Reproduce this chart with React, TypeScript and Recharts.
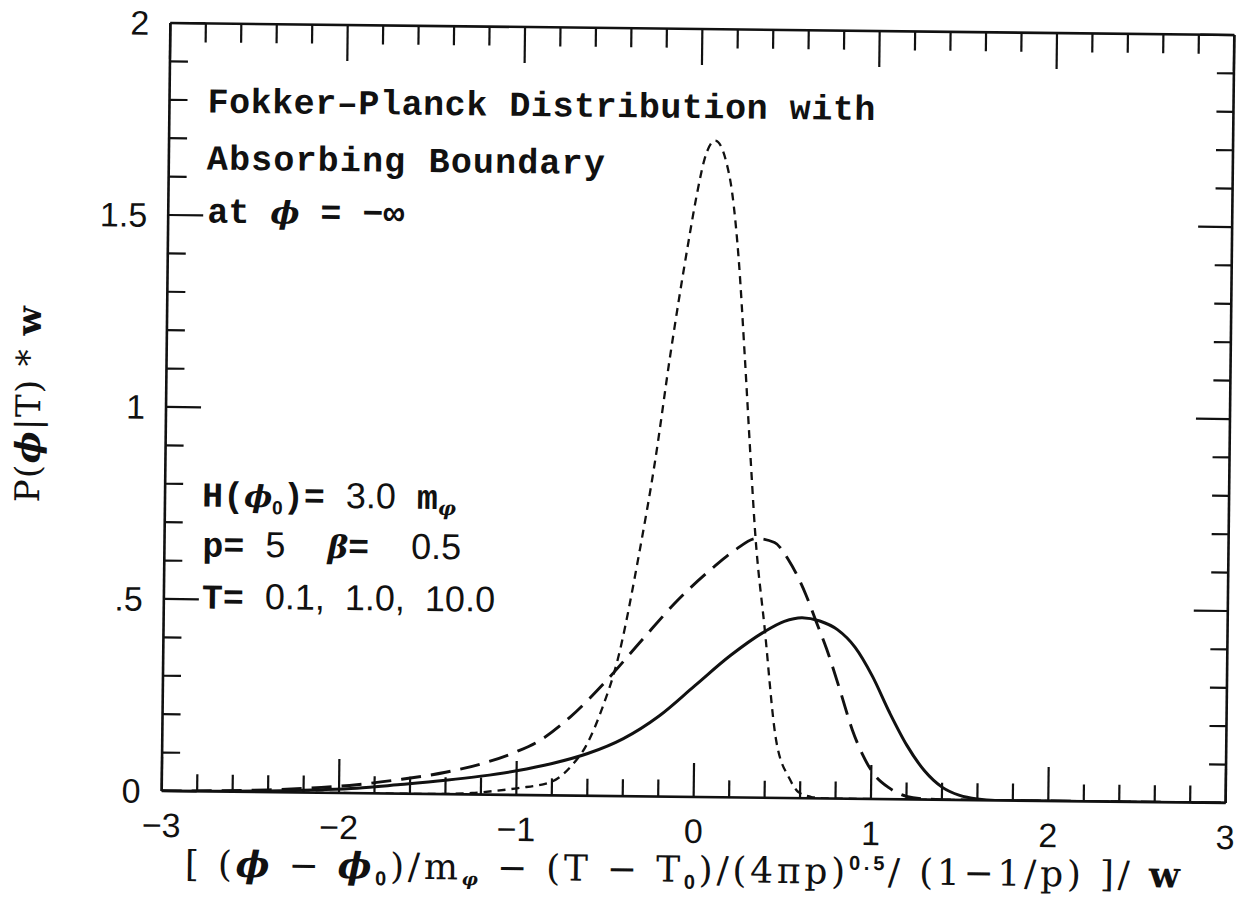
import React from 'react';
import { LineChart, Line, XAxis, YAxis } from 'recharts';

// ---- data ----
// T = 0.1 (short dashes)
const X_T01 = [-3, -1.5, -1.25, -1.12, -0.99, -0.8, -0.69, -0.61, -0.52, -0.44, -0.32, -0.24, -0.16, -0.07, -0.02, 0.02, 0.08, 0.14, 0.18, 0.22, 0.26, 0.3, 0.33, 0.39, 0.46, 0.54, 0.59, 0.66, 0.75, 3];
const P_T01 = [0, 0, 0.004, 0.01, 0.018, 0.036, 0.078, 0.13, 0.23, 0.35, 0.64, 0.87, 1.15, 1.43, 1.57, 1.66, 1.71, 1.66, 1.57, 1.4, 1.15, 0.88, 0.69, 0.44, 0.154, 0.05, 0.016, 0.004, 0, 0];

// T = 1.0 (long dashes)
const X_T1 = [-3, -2.7, -2.4, -2.1, -1.9, -1.67, -1.4, -1.2, -1.0, -0.88, -0.7, -0.5, -0.3, -0.1, 0.1, 0.22, 0.34, 0.44, 0.52, 0.62, 0.68, 0.74, 0.82, 0.89, 0.95, 1.01, 1.1, 1.2, 1.3, 1.45, 3];
const P_T1 = [0, 0.002, 0.006, 0.014, 0.022, 0.036, 0.057, 0.08, 0.113, 0.14, 0.205, 0.3, 0.408, 0.513, 0.6, 0.645, 0.675, 0.665, 0.62, 0.53, 0.46, 0.39, 0.28, 0.18, 0.115, 0.068, 0.03, 0.008, 0.002, 0, 0];

// T = 10.0 (solid)
const X_T10 = [-3, -2.7, -2.4, -2.1, -1.9, -1.67, -1.4, -1.2, -1.0, -0.8, -0.6, -0.4, -0.2, 0.0, 0.2, 0.38, 0.5, 0.6, 0.7, 0.8, 0.9, 1.0, 1.1, 1.2, 1.3, 1.4, 1.5, 1.6, 1.7, 3];
const P_T10 = [0, 0.001, 0.003, 0.008, 0.013, 0.023, 0.036, 0.048, 0.063, 0.083, 0.11, 0.15, 0.21, 0.29, 0.37, 0.43, 0.46, 0.47, 0.462, 0.44, 0.395, 0.32, 0.225, 0.14, 0.075, 0.033, 0.012, 0.003, 0, 0];

// ---- ticks ----
const X_MAJOR_TICKS = [-3, -2, -1, 0, 1, 2, 3];
const X_TICK_LABELS = ['\u22123', '\u22122', '\u22121', '0', '1', '2', '3'];
const Y_MAJOR_TICKS = [0, 0.5, 1, 1.5, 2];
const Y_TICK_LABELS = ['0', '.5', '1', '1.5', '2'];
const X_TICKS = Array.from({ length: 31 }, (_, i) => Math.round((-3 + i * 0.2) * 10) / 10);
const Y_TICKS = Array.from({ length: 21 }, (_, i) => i / 10);

const zip = (xs: number[], ys: number[]) => xs.map((x, i) => ({ x, y: ys[i] }));
const DATA_T01 = zip(X_T01, P_T01);
const DATA_T1 = zip(X_T1, P_T1);
const DATA_T10 = zip(X_T10, P_T10);

const INK = '#111';
const SANS = "'Liberation Sans', Arial, Helvetica, sans-serif";
const SERIF = "'DejaVu Serif', 'Liberation Serif', serif";
const MONO = "'Liberation Mono', 'DejaVu Sans Mono', monospace";

const majorIndex = (list: number[], v: number) => list.findIndex((m) => Math.abs(m - v) < 1e-6);

function BottomTick(props: any) {
  const { x, y, payload } = props;
  const idx = majorIndex(X_MAJOR_TICKS, payload.value);
  const major = idx >= 0;
  return (
    <g>
      <line x1={x} x2={x} y1={y} y2={y - (major ? 34 : 17)} stroke={INK} strokeWidth={2.2} />
      {major && (
        <text x={x} y={y + 46} textAnchor="middle" fontFamily={SANS} fontSize={34} fill={INK}>
          {X_TICK_LABELS[idx]}
        </text>
      )}
    </g>
  );
}

function TopTick(props: any) {
  const { x, y, payload } = props;
  const major = majorIndex(X_MAJOR_TICKS, payload.value) >= 0;
  return <line x1={x} x2={x} y1={y} y2={y + (major ? 36 : 19)} stroke={INK} strokeWidth={2.2} />;
}

function LeftTick(props: any) {
  const { x, y, payload } = props;
  const idx = majorIndex(Y_MAJOR_TICKS, payload.value);
  const major = idx >= 0;
  return (
    <g>
      <line x1={x} x2={x + (major ? 35 : 18)} y1={y} y2={y} stroke={INK} strokeWidth={2.2} />
      {major && (
        <text x={x - 21} y={y + 12} textAnchor="end" fontFamily={SANS} fontSize={34} fill={INK}>
          {Y_TICK_LABELS[idx]}
        </text>
      )}
    </g>
  );
}

function RightTick(props: any) {
  const { x, y, payload } = props;
  const major = majorIndex(Y_MAJOR_TICKS, payload.value) >= 0;
  return <line x1={x} x2={x - (major ? 34 : 17)} y1={y} y2={y} stroke={INK} strokeWidth={2.2} />;
}

const axisLine = { stroke: INK, strokeWidth: 2.6 };
const pre = { whiteSpace: 'pre' as const };

export default function App() {
  return (
    <div
      style={{
        position: 'absolute',
        left: 0,
        top: 0,
        width: 1241,
        height: 902,
        background: '#fff',
        transform: 'rotate(0.65deg)',
        transformOrigin: '698px 413px',
      }}
    >
      <LineChart width={1241} height={902} margin={{ top: 0, right: 0, bottom: 0, left: 0 }}>
        <XAxis
          xAxisId="b"
          dataKey="x"
          type="number"
          domain={[-3, 3]}
          ticks={X_TICKS}
          interval={0}
          allowDataOverflow
          tick={(p: any) => <BottomTick {...p} />}
          tickLine={false}
          tickSize={0}
          tickMargin={0}
          axisLine={axisLine}
          height={105}
        />
        <XAxis
          xAxisId="t"
          orientation="top"
          dataKey="x"
          type="number"
          domain={[-3, 3]}
          ticks={X_TICKS}
          interval={0}
          allowDataOverflow
          tick={(p: any) => <TopTick {...p} />}
          tickLine={false}
          tickSize={0}
          tickMargin={0}
          axisLine={axisLine}
          height={29}
        />
        <YAxis
          yAxisId="l"
          type="number"
          domain={[0, 2]}
          ticks={Y_TICKS}
          interval={0}
          allowDataOverflow
          tick={(p: any) => <LeftTick {...p} />}
          tickLine={false}
          tickSize={0}
          tickMargin={0}
          axisLine={axisLine}
          width={166}
        />
        <YAxis
          yAxisId="r"
          orientation="right"
          type="number"
          domain={[0, 2]}
          ticks={Y_TICKS}
          interval={0}
          allowDataOverflow
          tick={(p: any) => <RightTick {...p} />}
          tickLine={false}
          tickSize={0}
          tickMargin={0}
          axisLine={axisLine}
          width={11}
        />
        <Line
          xAxisId="b"
          yAxisId="l"
          data={DATA_T01}
          dataKey="y"
          type="monotone"
          stroke={INK}
          strokeWidth={2.3}
          strokeDasharray="8 6"
          dot={false}
          isAnimationActive={false}
        />
        <Line
          xAxisId="b"
          yAxisId="l"
          data={DATA_T1}
          dataKey="y"
          type="monotone"
          stroke={INK}
          strokeWidth={2.9}
          strokeDasharray="20 10"
          dot={false}
          isAnimationActive={false}
        />
        <Line
          xAxisId="b"
          yAxisId="l"
          data={DATA_T10}
          dataKey="y"
          type="monotone"
          stroke={INK}
          strokeWidth={3}
          dot={false}
          isAnimationActive={false}
        />
      </LineChart>
      <svg
        width={1241}
        height={902}
        style={{ position: 'absolute', left: 0, top: 0, pointerEvents: 'none' }}
      >
        <g fill={INK}>
          <text x={204} y={118} fontFamily={MONO} fontWeight="bold" fontSize={35} textLength={668} lengthAdjust="spacing" style={pre}>
            {'Fokker\u2013Planck Distribution with'}
          </text>
          <text x={204} y={175} fontFamily={MONO} fontWeight="bold" fontSize={35} textLength={398} lengthAdjust="spacing" style={pre}>
            {'Absorbing Boundary'}
          </text>
          <text x={205} y={228} fontFamily={MONO} fontWeight="bold" fontSize={35} style={pre}>
            {'at '}
            <tspan fontFamily={SERIF} fontStyle="italic" fontSize={31}>{'\u03D5'}</tspan>
            {' = \u2212\u221E'}
          </text>
          <text x={203} y={512} fontFamily={MONO} fontWeight="bold" fontSize={35} style={pre}>
            {'H('}
            <tspan fontFamily={SERIF} fontStyle="italic" fontSize={30}>{'\u03D5'}</tspan>
            <tspan fontFamily={SANS} fontSize={19} dy={7}>{'0'}</tspan>
            <tspan dy={-7}>{')= '}</tspan>
            <tspan fontFamily={SANS} fontWeight="normal" fontSize={36}>{'3.0'}</tspan>
            {' m'}
            <tspan fontFamily={SERIF} fontStyle="italic" fontSize={20} dy={6}>{'\u03C6'}</tspan>
          </text>
          <text x={204} y={562} fontFamily={MONO} fontWeight="bold" fontSize={35} style={pre}>
            {'p= '}
            <tspan fontFamily={SANS} fontWeight="normal" fontSize={36}>{'5'}</tspan>
            {'  '}
            <tspan fontFamily={SERIF} fontStyle="italic" fontSize={31}>{'\u03B2'}</tspan>
            {'=  '}
            <tspan fontFamily={SANS} fontWeight="normal" fontSize={36}>{'0.5'}</tspan>
          </text>
          <text x={204} y={614} fontFamily={MONO} fontWeight="bold" fontSize={35} style={pre}>
            {'T= '}
            <tspan fontFamily={SANS} fontWeight="normal" fontSize={36}>{'0.1,  1.0,  10.0'}</tspan>
          </text>

          <text
            x={190}
            y={882}
            fontFamily={SERIF}
            fontSize={36}
            textLength={995}
            lengthAdjust="spacing"
            style={pre}
          >
            {'[ ('}
            <tspan fontStyle="italic" fontWeight="bold">{'\u03D5'}</tspan>
            {' \u2212 '}
            <tspan fontStyle="italic" fontWeight="bold">{'\u03D5'}</tspan>
            <tspan fontFamily={SANS} fontWeight="bold" fontSize={20} dy={7}>{'0'}</tspan>
            <tspan dy={-7}>{')/m'}</tspan>
            <tspan fontStyle="italic" fontWeight="bold" fontSize={18} dy={6}>{'\u03C6'}</tspan>
            <tspan dy={-6}>{' \u2212 (T \u2212 T'}</tspan>
            <tspan fontFamily={SANS} fontWeight="bold" fontSize={20} dy={7}>{'0'}</tspan>
            <tspan dy={-7}>{')/(4\u03C0p)'}</tspan>
            <tspan fontFamily={SANS} fontWeight="bold" fontSize={20} dy={-14}>{'0.5'}</tspan>
            <tspan dy={14}>{'/ (1\u22121/p) ]/ '}</tspan>
            <tspan fontWeight="bold">{'w'}</tspan>
          </text>

          <text
            x={40}
            y={412}
            transform="rotate(-90 40 412)"
            textAnchor="middle"
            fontFamily={SERIF}
            fontSize={34}
            textLength={196}
            lengthAdjust="spacing"
            style={pre}
          >
            {'P('}
            <tspan fontStyle="italic" fontWeight="bold">{'\u03D5'}</tspan>
            {'|T) * '}
            <tspan fontWeight="bold">{'w'}</tspan>
          </text>
        </g>
      </svg>
    </div>
  );
}
